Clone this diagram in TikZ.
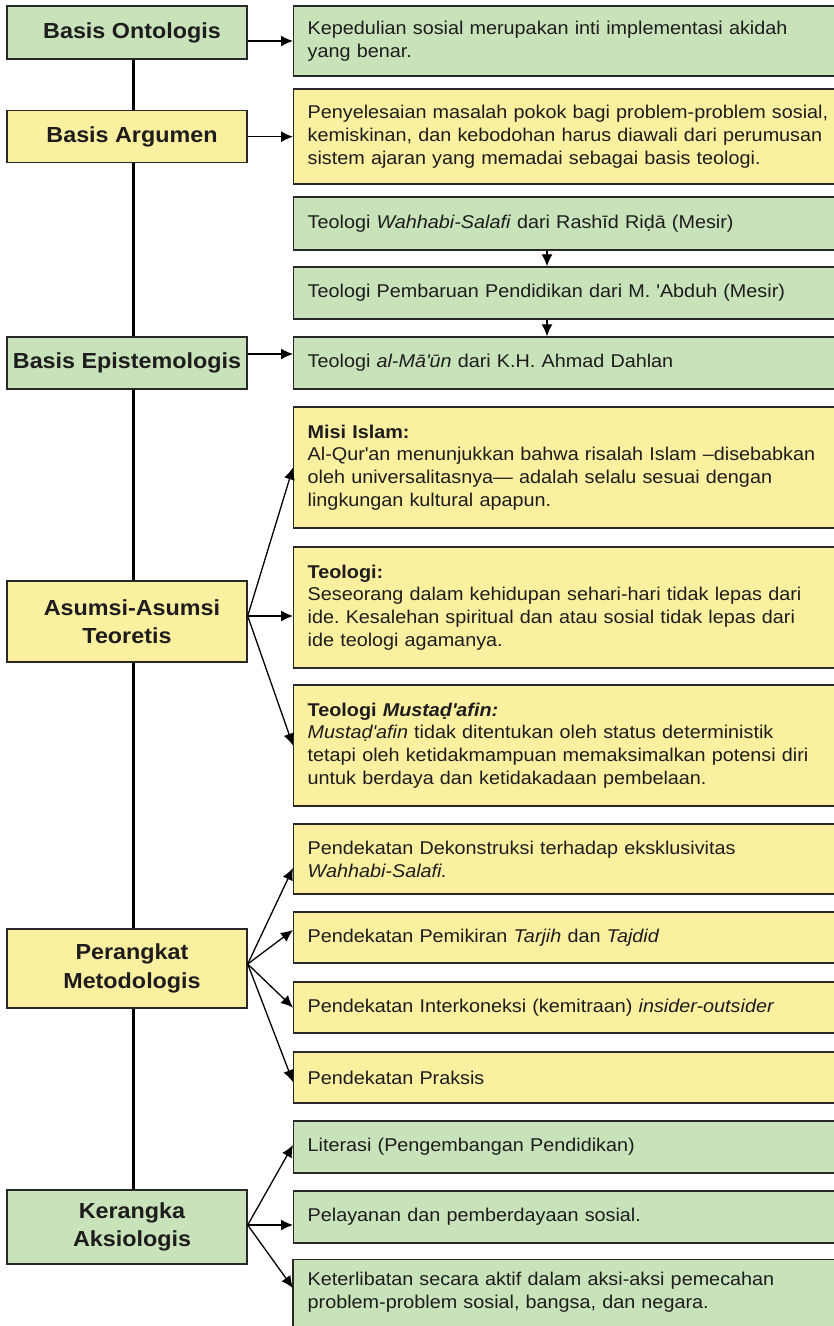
\documentclass[tikz,border=0pt]{standalone}
\usepackage{fontspec}
\setmainfont{Liberation Sans}[FakeStretch=1.07]
\usetikzlibrary{arrows.meta,backgrounds}
\definecolor{gfill}{RGB}{200,226,186}
\definecolor{yfill}{RGB}{250,240,160}
\definecolor{bord}{RGB}{40,40,40}
\definecolor{txt}{RGB}{30,28,28}
\newcommand{\sq}{\textquotesingle}
\newcommand{\hs}{\hspace*{10pt}}
\frenchspacing
\begin{document}
\begin{tikzpicture}[x=1pt,y=-1pt,
  box/.style={draw=bord,line width=1.4pt,text=txt,inner sep=0pt},
  lbox/.style={box,minimum width=240pt,align=center,font=\fontsize{21.8}{28.5}\selectfont\bfseries},
  rbox/.style={box,anchor=west,text width=600pt,inner xsep=14pt,align=left,font=\fontsize{18.5}{22.8}\selectfont},
  gbox/.style={fill=gfill},
  ybox/.style={fill=yfill},
  arr/.style={line width=1.3pt,draw=black,-{Latex[length=12pt,width=11pt]}}]
\useasboundingbox (0,0) rectangle (834,1326);

% left column
\node[lbox,gbox,minimum height=53pt] (onto) at (127,32.5) {\hs Basis Ontologis};
\node[lbox,ybox,minimum height=52pt] (arg) at (127,136.7) {\hs Basis Argumen};
\node[lbox,gbox,minimum height=52pt] (epi) at (127,363) {Basis Epistemologis};
\node[lbox,ybox,minimum height=81pt] (asu) at (127,621.5) {\hs Asumsi-Asumsi\\Teoretis};
\node[lbox,ybox,minimum height=79pt] (per) at (127,968.5) {\hs Perangkat\\\hs Metodologis};
\node[lbox,gbox,minimum height=74pt] (ker) at (127,1227) {\hs Kerangka\\\hs Aksiologis};

% right column
\node[rbox,gbox,minimum height=70pt] (r1) at (293,41) {Kepedulian sosial merupakan inti implementasi akidah\\yang benar.};
\node[rbox,ybox,minimum height=95pt] (r2) at (293,136.5) {Penyelesaian masalah pokok bagi problem-problem sosial,\\kemiskinan, dan kebodohan harus diawali dari perumusan\\sistem ajaran yang memadai sebagai basis teologi.};
\node[rbox,gbox,minimum height=53pt] (r3) at (293,223.5) {Teologi \textit{Wahhabi-Salafi} dari Rashīd Riḍā (Mesir)};
\node[rbox,gbox,minimum height=52pt] (r4) at (293,293) {Teologi Pembaruan Pendidikan dari M. \sq Abduh (Mesir)};
\node[rbox,gbox,minimum height=52pt] (r5) at (293,363) {Teologi \textit{al-Mā\sq ūn} dari K.H. Ahmad Dahlan};
\node[rbox,ybox,minimum height=121pt] (r6) at (293,467.5) {\textbf{Misi Islam:}\\Al-Qur\sq an menunjukkan bahwa risalah Islam --disebabkan\\oleh universalitasnya--- adalah selalu sesuai dengan\\lingkungan kultural apapun.};
\node[rbox,ybox,minimum height=121pt] (r7) at (293,607.5) {\textbf{Teologi:}\\Seseorang dalam kehidupan sehari-hari tidak lepas dari\\ide. Kesalehan spiritual dan atau sosial tidak lepas dari\\ide teologi agamanya.};
\node[rbox,ybox,minimum height=121pt] (r8) at (293,745.5) {\textbf{Teologi \textit{Mustaḍ\sq afin:}}\\\textit{Mustaḍ\sq afin} tidak ditentukan oleh status deterministik\\tetapi oleh ketidakmampuan memaksimalkan potensi diri\\untuk berdaya dan ketidakadaan pembelaan.};
\node[rbox,ybox,minimum height=70pt] (r9) at (293,859) {Pendekatan Dekonstruksi terhadap eksklusivitas\\\textit{Wahhabi-Salafi.}};
\node[rbox,ybox,minimum height=51pt] (r10) at (293,937.5) {Pendekatan Pemikiran \textit{Tarjih} dan \textit{Tajdid}};
\node[rbox,ybox,minimum height=51pt] (r11) at (293,1007.5) {Pendekatan Interkoneksi (kemitraan) \textit{insider-outsider}};
\node[rbox,ybox,minimum height=51pt] (r12) at (293,1077.5) {Pendekatan Praksis};
\node[rbox,gbox,minimum height=52pt] (r13) at (293,1147) {Literasi (Pengembangan Pendidikan)};
\node[rbox,gbox,minimum height=52pt] (r14) at (293,1217) {Pelayanan dan pemberdayaan sosial.};
\node[rbox,draw=none,minimum height=64pt] (r15) at (293,1292) {Keterlibatan secara aktif dalam aksi-aksi pemecahan\\problem-problem sosial, bangsa, dan negara.};

\begin{scope}[on background layer]
  \draw[line width=3pt] ([xshift=6pt]onto.south) -- ([xshift=6pt]ker.north);
  \draw[draw=bord,line width=1.4pt,fill=gfill] (r15.north west) rectangle ([yshift=-40pt]r15.south east);
\end{scope}

% connectors
\draw[arr] (onto.east |- r1.west) -- (r1.west);
\draw[arr] (arg.east) -- (arg.east -| r2.west);
\draw[arr] ([yshift=9pt]epi.east) -- ([yshift=9pt]epi.east -| r5.west);
\coordinate (vx) at (547,0);
\draw[arr] (r3.south -| vx) -- (r4.north -| vx);
\draw[arr] (r4.south -| vx) -- (r5.north -| vx);
\coordinate (asuo) at ([yshift=5.5pt]asu.east);
\draw[arr] (asuo) -- (r6.west);
\draw[arr] (asuo) -- (asuo -| r7.west);
\draw[arr] (asuo) -- (r8.west);
\coordinate (pero) at ([yshift=4.5pt]per.east);
\draw[arr] (pero) -- ([yshift=-9pt]r9.west);
\draw[arr] (pero) -- ([yshift=7.5pt]r10.west);
\draw[arr] (pero) -- (r11.west);
\draw[arr] (pero) -- ([yshift=-4.5pt]r12.west);
\coordinate (kero) at ([yshift=2pt]ker.east);
\draw[arr] (kero) -- ([yshift=2pt]r13.west);
\draw[arr] (kero) -- (kero -| r14.west);
\draw[arr] (kero) -- ([yshift=4pt]r15.west);
\end{tikzpicture}
\end{document}
